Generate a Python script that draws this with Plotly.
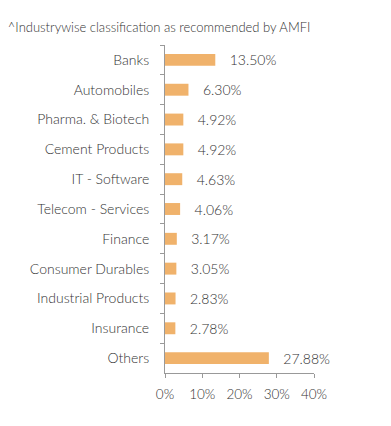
import plotly.graph_objects as go

categories = ["Banks", "Automobiles", "Pharma. & Biotech", "Cement Products", "IT - Software",
              "Telecom - Services", "Finance", "Consumer Durables", "Industrial Products",
              "Insurance", "Others"]
values = [13.50, 6.30, 4.92, 4.92, 4.63, 4.06, 3.17, 3.05, 2.83, 2.78, 27.88]
x_ticks = [0, 10, 20, 30, 40]
x_tick_labels = ["0%", "10%", "20%", "30%", "40%"]
title_text = "^Industrywise classification as recommended by AMFI"

FONT = "Lato"
TXT = "#333333"

fig = go.Figure(go.Bar(
    x=values, y=categories, orientation="h",
    marker=dict(color="#F0B26B", line=dict(width=0)),
    text=["   %.2f%%" % v for v in values],
    textposition="outside", cliponaxis=False, constraintext="none",
    textfont=dict(family=FONT, size=14, color=TXT, weight=300),
    width=0.4, hoverinfo="skip",
))

fig.update_layout(
    width=391, height=426,
    margin=dict(l=165, r=77, t=45, b=53, autoexpand=False),
    paper_bgcolor="white", plot_bgcolor="white",
    font=dict(family=FONT, size=12, color=TXT, weight=300),
    showlegend=False,
    title=dict(text=title_text, x=0.02, xanchor="left", y=0.935, yanchor="middle",
               font=dict(family=FONT, size=13, color=TXT, weight=300)),
    bargap=0.6,
)
fig.update_yaxes(
    categoryorder="array", categoryarray=categories, autorange="reversed",
    showline=True, linecolor="#999999", linewidth=1,
    ticks="outside", ticklen=4, tickcolor="#999999", tickson="boundaries",
    showgrid=False, ticklabelstandoff=12,
    tickfont=dict(family=FONT, size=14, color=TXT, weight=300),
)
fig.update_xaxes(
    range=[0, 40], tickvals=x_ticks, ticktext=x_tick_labels,
    showline=True, linecolor="#999999", linewidth=1,
    ticks="outside", ticklen=4, tickcolor="#999999",
    showgrid=False, zeroline=False, ticklabelstandoff=5,
    tickfont=dict(family=FONT, size=13.5, color=TXT, weight=300),
)

fig.write_html("out.html", config={"displayModeBar": False},
               post_script="document.body.style.margin='0';")
